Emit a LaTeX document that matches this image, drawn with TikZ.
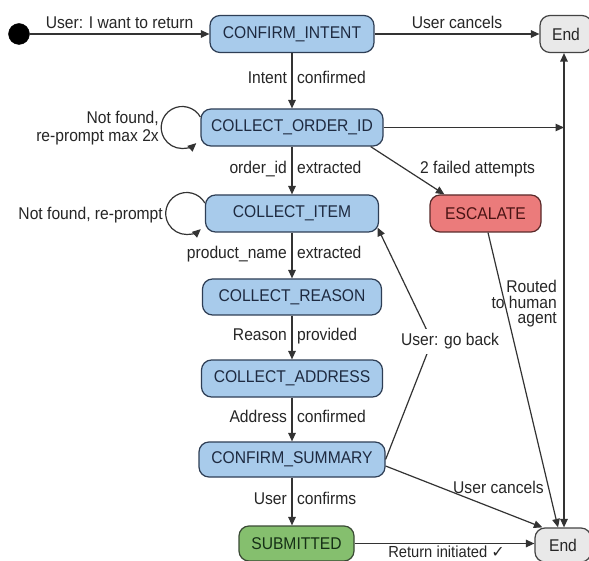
\documentclass[tikz,border=0pt]{standalone}
\usepackage{fontspec}
\setmainfont{Liberation Sans}[FakeStretch=0.92]
\newfontfamily\symfont{DejaVu Sans}
\usetikzlibrary{arrows.meta}

\definecolor{linegray}{HTML}{333333}
\definecolor{labelgray}{HTML}{262626}
\definecolor{askfill}{HTML}{A8CBEB}
\definecolor{askedge}{HTML}{2E3E55}
\definecolor{asktext}{HTML}{1E2A40}
\definecolor{failfill}{HTML}{EB7B7B}
\definecolor{failedge}{HTML}{5A2A2A}
\definecolor{failtext}{HTML}{4A1414}
\definecolor{donefill}{HTML}{85BF6E}
\definecolor{doneedge}{HTML}{3A4A35}
\definecolor{donetext}{HTML}{163016}
\definecolor{endfill}{HTML}{E9E9E9}
\definecolor{endedge}{HTML}{444444}

\begin{document}
\begin{tikzpicture}[x=1pt, y=1pt,
  >={Triangle[length=8.5pt, width=7.5pt]},
  every node/.style={font=\fontsize{17}{20}\selectfont, text=labelgray},
  flow/.style={draw=linegray, line width=1.2pt, ->},
  state/.style={draw, rounded corners=10pt, line width=1.2pt,
    minimum height=37pt, inner sep=0pt},
  askstate/.style={state, fill=askfill, draw=askedge, text=asktext},
  failstate/.style={state, fill=failfill, draw=failedge, text=failtext},
  donestate/.style={state, fill=donefill, draw=doneedge, text=donetext},
  endstate/.style={state, fill=endfill, draw=endedge, text=labelgray},
  lblL/.style={anchor=base east, inner sep=0pt, xshift=-4.5pt, yshift=-3pt},
  lblR/.style={anchor=base west, inner sep=0pt, xshift=4.5pt, yshift=-3pt},
  lblTop/.style={anchor=base, inner sep=0pt, yshift=5.7pt},
  freelbl/.style={inner sep=0pt}
]
\fill[white] (0,0) rectangle (589,-561);
\useasboundingbox (0,0) rectangle (589,-561);

% states
\node[circle, fill=black, draw=black, minimum size=21pt, inner sep=0pt] (start) at (19,-34) {};
\node[askstate, minimum width=164pt] (CI)   at (292,-34)    {CONFIRM\_INTENT};
\node[askstate, minimum width=182pt] (COID) at (292,-127.5) {COLLECT\_ORDER\_ID};
\node[askstate, minimum width=173pt] (CIT)  at (292,-213.5) {COLLECT\_ITEM};
\node[askstate, minimum width=179pt, minimum height=36pt] (CR) at (292,-297) {COLLECT\_REASON};
\node[askstate, minimum width=181pt] (CA)   at (292,-378.5) {COLLECT\_ADDRESS};
\node[askstate, minimum width=186pt, minimum height=35pt] (CS) at (292,-459.5) {CONFIRM\_SUMMARY};
\node[donestate, minimum width=115pt, minimum height=35pt] (SUB) at (296.5,-543.5) {SUBMITTED};
\node[failstate, minimum width=111pt] (ESC) at (485.5,-213.5) {ESCALATE};
\node[endstate, minimum width=52pt] (EndT) at (566,-34) {End};
\node[endstate, minimum width=56pt, minimum height=34pt] (EndB) at (563,-545) {End};
\coordinate (rail) at (564,0);
\coordinate (back) at (432,-341);

% main flow
\draw[flow] (start.east) -- node[lblTop, midway]{User: I want to return} (CI.west);
\draw[flow] (CI.east) -- node[lblTop, midway]{User cancels} (EndT.west);
\draw[flow] (CI.south) -- node[lblL, midway]{Intent} node[lblR, midway]{confirmed} (COID.north);
\draw[flow] (COID.south) -- node[lblL, midway]{order\_id} node[lblR, midway]{extracted} (CIT.north);
\draw[flow] (CIT.south) -- node[lblL, midway]{product\_name} node[lblR, midway]{extracted} (CR.north);
\draw[flow] (CR.south) -- node[lblL, midway]{Reason} node[lblR, midway]{provided} (CA.north);
\draw[flow] (CA.south) -- node[lblL, midway]{Address} node[lblR, midway]{confirmed} (CS.north);
\draw[flow] (CS.south) -- node[lblL, midway]{User} node[lblR, midway]{confirms} (CS.south |- SUB.north);
\draw[flow] (SUB.east) -- (SUB.east -| EndB.west);

% retries
\draw[flow] ([yshift=10.5pt]COID.west) arc[start angle=30, end angle=312, radius=21pt];
\draw[flow] ([yshift=10.5pt]CIT.west) arc[start angle=30, end angle=312, radius=21pt];

% exits and escalation
\draw[flow] (COID.east) -- (COID.east -| rail);
\draw[flow, <->] (EndT.south -| rail) -- (EndB.north -| rail);
\draw[flow] ([xshift=-13pt]COID.south east) -- ([xshift=15pt]ESC.north west);
\draw[flow] ([xshift=2.5pt]ESC.south) -- ([xshift=-5pt]EndB.north);
\draw[flow] ([yshift=-6.5pt]CS.east) -- ([xshift=8pt]EndB.north west);
\draw[flow] (CS.east) -- (back) -- ([xshift=-1.5pt, yshift=5pt]CIT.south east);

% free-standing labels
\node[freelbl, anchor=east, align=right, font=\fontsize{17}{18.4}\selectfont] (nf1) at (159,-128.1) {Not found,\\re-prompt max 2x};
\node[freelbl, anchor=base east] (nf2) at (163,-219.3) {Not found, re-prompt};
\node[freelbl, anchor=base west] (fail) at (420,-173.3) {2 failed attempts};
\node[freelbl, anchor=east, align=right, font=\fontsize{17}{15.5}\selectfont] (human) at (557,-303.9) {Routed\\to human\\agent};
\node[anchor=base, fill=white, inner sep=4.5pt] (goback) at (450,-345.7) {User: go back};
\node[freelbl, anchor=base west] (cancel2) at (453,-493) {User cancels};
\node[freelbl, anchor=base, font=\fontsize{16}{18}\selectfont] (done) at (446.5,-557.5) {Return initiated {\symfont ✓}};
\end{tikzpicture}
\end{document}
